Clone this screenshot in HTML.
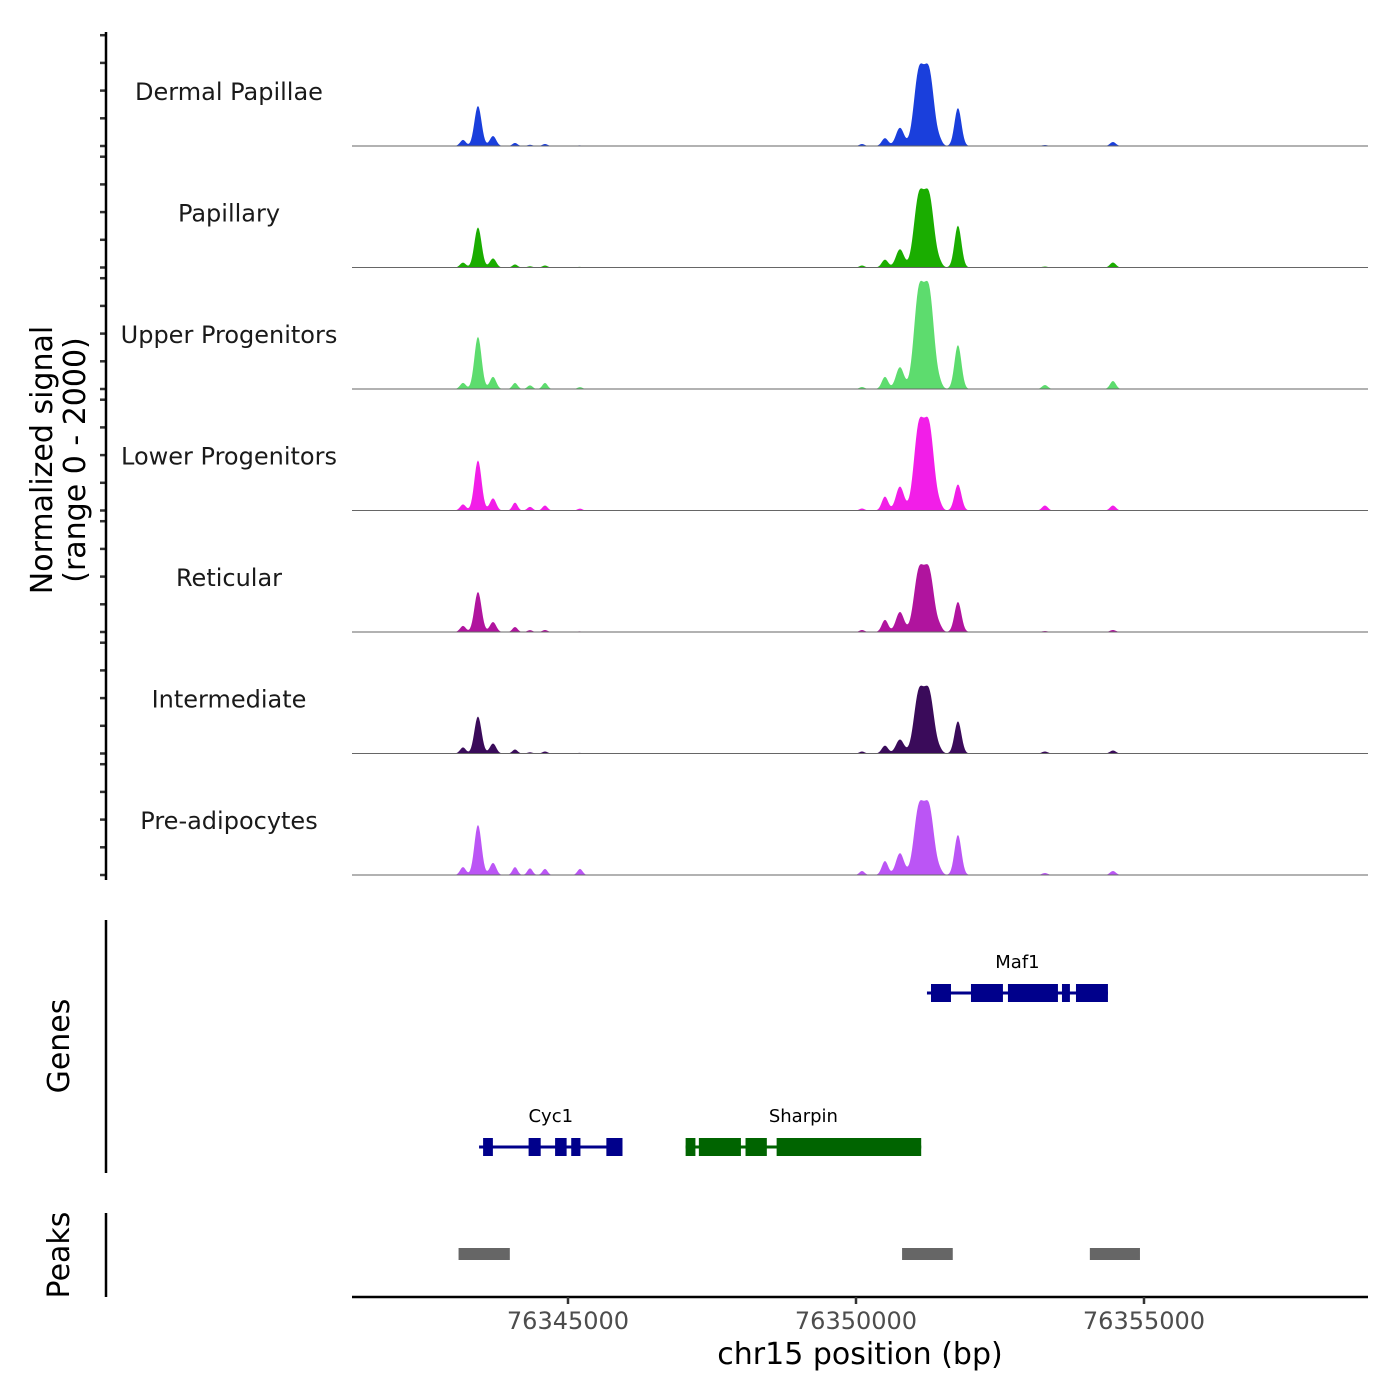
<!DOCTYPE html>
<html><head><meta charset="utf-8"><style>
html,body{margin:0;padding:0;background:#fff;}
svg{display:block;font-family:"DejaVu Sans","Liberation Sans",sans-serif;}
</style></head><body>
<svg id="chart" width="1400" height="1400" viewBox="0 0 1400 1400" xmlns="http://www.w3.org/2000/svg">
<g id="tracks"></g>
<g id="genes"></g>
<g id="peaks"></g>
<g id="axes"></g>
</svg>
<script>
const trackNames = ["Dermal Papillae","Papillary","Upper Progenitors","Lower Progenitors","Reticular","Intermediate","Pre-adipocytes"];
const trackColors = ["#1a3fdc","#1aad00","#5ddc6e","#f21ee8","#b0149e","#3a0b5a","#bb55f5"];
// peak centers (bp)
const peakCenters = [76343437,76343177,76343698,76344080,76344600,76350503,76350763,76351090,76351270,76351458,76351770,76353280,76354461,76350104,76344340,76345208];
const peakWidths = [62,50,55,45,45,55,70,85,85,45,60,50,50,45,45,45];
// values per track (0-2000 scale), same order as peakCenters
const trackValues = [
 [660,100,165,50,33,130,300,1180,1180,60,625,16,66,33,20,10],
 [660,80,150,50,33,130,300,1130,1130,50,690,16,82,33,20,10],
 [860,100,200,100,100,200,360,1545,1545,60,725,66,132,33,60,30],
 [825,100,200,130,82,230,395,1340,1340,60,430,82,82,33,60,30],
 [660,100,165,82,33,200,330,970,970,60,495,16,33,33,30,10],
 [610,100,165,66,33,130,230,970,970,40,530,33,50,33,20,10],
 [825,130,200,130,100,230,360,1070,1070,50,660,33,66,66,110,100]
];
const geneNames = ["Maf1","Cyc1","Sharpin"];
const geneStarts = [76351232,76343456,76347042];
const geneEnds = [76354374,76345946,76351132];
const geneRows = [0,1,1];
const geneColors = ["#00008b","#00008b","#006400"];
const geneExons = [
 [[76351302,76351649],[76351996,76352551],[76352638,76353506],[76353576,76353714],[76353819,76354374]],
 [[76343526,76343696],[76344316,76344526],[76344776,76344976],[76345056,76345216],[76345666,76345946]],
 [[76347042,76347212],[76347272,76348002],[76348082,76348452],[76348622,76351132]]
];
const peakRegionStarts = [76343100,76350800,76354060];
const peakRegionEnds = [76343990,76351680,76354930];
const xTicks = [76345000,76350000,76355000];

const NS="http://www.w3.org/2000/svg";
const X0=352,X1=1368,BP0=76341250,BP1=76358889;
const x = bp => X0+(bp-BP0)*(X1-X0)/(BP1-BP0);
const TH=121.5, BASE0=146;
const yv = (v,i) => BASE0+i*TH - v/2000*TH;
function el(tag,attrs,parent,text){const e=document.createElementNS(NS,tag);for(const k in attrs)e.setAttribute(k,attrs[k]);if(text!==undefined)e.textContent=text;parent.appendChild(e);return e;}
const gT=document.getElementById('tracks'),gG=document.getElementById('genes'),gP=document.getElementById('peaks'),gA=document.getElementById('axes');

trackNames.forEach((name,i)=>{
  const base=BASE0+i*TH;
  let d=`M${X0},${base}`;
  for(let px=X0;px<=X1;px+=1){
    const bp=BP0+(px-X0)*(BP1-BP0)/(X1-X0);
    let v=0;
    peakCenters.forEach((c,k)=>{const s=peakWidths[k];v+=trackValues[i][k]*Math.exp(-0.5*((bp-c)/s)**2);});
    d+=`L${px},${yv(v,i).toFixed(2)}`;
  }
  d+=`L${X1},${base}Z`;
  const p=el('path',{d:d,fill:trackColors[i]},gT);
  
  
  const bl=el('line',{x1:X0,x2:X1,y1:base,y2:base,stroke:'#666','stroke-width':1},gT);
  
  
  const t=el('text',{x:229,y:base-46,'text-anchor':'middle','font-size':24,fill:'#1a1a1a'},gT,name);
  
  
  for(let k=0;k<5;k++){
    const ty=base-k*27.7;
    const tk=el('line',{x1:100,x2:106,y1:ty,y2:ty,stroke:'#333','stroke-width':2.5},gA);
    
    
  }
});

const rowY=[993,1147];
geneNames.forEach((g,i)=>{
  const y=rowY[geneRows[i]],c=geneColors[i];
  const ln=el('line',{x1:x(geneStarts[i]),x2:x(geneEnds[i]),y1:y,y2:y,stroke:c,'stroke-width':3},gG);
  
  
  geneExons[i].forEach(e=>{
    const r=el('rect',{x:x(e[0]),y:y-9,width:x(e[1])-x(e[0]),height:18,fill:c},gG);
    
    
  });
  const lb=el('text',{x:(x(geneStarts[i])+x(geneEnds[i]))/2,y:y-25,'text-anchor':'middle','font-size':18,fill:'#000'},gG,g);
  
  
});

peakRegionStarts.forEach((s,i)=>{
  const r=el('rect',{x:x(s),y:1248,width:x(peakRegionEnds[i])-x(s),height:12,fill:'#666'},gP);
  
  
});

[[32,880],[920,1173],[1213,1297]].forEach(s=>{
  const l=el('line',{x1:106,x2:106,y1:s[0],y2:s[1],stroke:'#000','stroke-width':2.5},gA);
  
  
});
const xa=el('line',{x1:X0,x2:X1,y1:1297,y2:1297,stroke:'#000','stroke-width':2.5},gA);


xTicks.forEach(t=>{
  const tk=el('line',{x1:x(t),x2:x(t),y1:1297,y2:1304,stroke:'#333','stroke-width':2.5},gA);
  
  
  const tl=el('text',{x:x(t),y:1329,'text-anchor':'middle','font-size':24,fill:'#4d4d4d'},gA,String(t));
  
  
});
const xt=el('text',{x:860,y:1364,'text-anchor':'middle','font-size':30,fill:'#000'},gA,'chr15 position (bp)');


const yt=el('text',{transform:'translate(52,460) rotate(-90)','text-anchor':'middle','font-size':30,fill:'#000'},gA);


el('tspan',{x:0,dy:0},yt,'Normalized signal');
el('tspan',{x:0,dy:33},yt,'(range 0 - 2000)');
[['Genes',1046],['Peaks',1255]].forEach(a=>{
  const t=el('text',{transform:`translate(69,${a[1]}) rotate(-90)`,'text-anchor':'middle','font-size':30,fill:'#000'},gA,a[0]);
  
  
});
</script>
</body></html>
